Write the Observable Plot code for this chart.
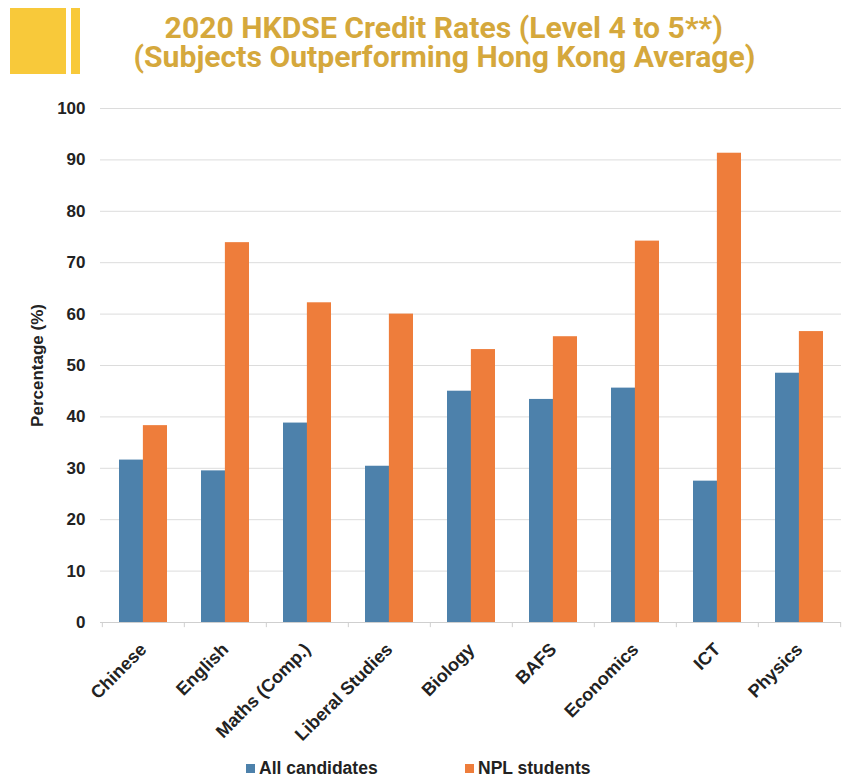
<!DOCTYPE html>
<html>
<head>
<meta charset="utf-8">
<script src="https://cdn.jsdelivr.net/npm/d3@7"></script>
<script src="https://cdn.jsdelivr.net/npm/@observablehq/plot@0.6"></script>
<style>
  html, body { margin: 0; padding: 0; background: #fff; }
  body { width: 848px; height: 778px; overflow: hidden; font-family: "Liberation Sans", Arial, sans-serif; }
  #header { position: relative; height: 90px; }
  .blk { position: absolute; background: #F8C93A; }
  .tl { position: absolute; left: 0; width: 888px; height: 28px; text-align: center; color: #D5A83C;
        font-family: Roboto, sans-serif; font-weight: 700; font-size: 30px; line-height: 28px; white-space: nowrap; }
  .tl span { display: inline-block; transform-origin: 50% 50%; }
  #chart { height: 660px; }
  #legend { position: relative; height: 28px; font-weight: 700; font-size: 17.5px; color: #222; }
  .item { position: absolute; top: 9px; display: flex; align-items: center; line-height: 18px; }
  .sw { width: 9px; height: 9px; margin-right: 4px; }
</style>
</head>
<body>
<div id="header">
  <div class="blk" style="left:10px;top:8px;width:56px;height:66px;"></div>
  <div class="blk" style="left:71px;top:8px;width:9px;height:66px;"></div>
  <div class="tl" style="top:14px;"><span id="t1">2020 HKDSE Credit Rates (Level 4 to 5**)</span></div>
  <div class="tl" style="top:43px;"><span id="t2">(Subjects Outperforming Hong Kong Average)</span></div>
</div>
<div id="chart"></div>
<div id="legend"></div>
<script>
const subjects = ["Chinese", "English", "Maths (Comp.)", "Liberal Studies", "Biology", "BAFS", "Economics", "ICT", "Physics"];
const allCandidates = [31.6, 29.5, 38.8, 30.4, 45.0, 43.4, 45.6, 27.5, 48.5];
const nplStudents = [38.3, 73.9, 62.2, 60.0, 53.1, 55.6, 74.2, 91.3, 56.6];
const seriesNames = ["All candidates", "NPL students"];
const seriesColors = ["#4D81AB", "#EE7D3B"];
const yTicks = [0, 10, 20, 30, 40, 50, 60, 70, 80, 90, 100];

// title: condense horizontally so the second line spans ~622px
(function () {
  const t1 = document.getElementById("t1");
  const t2 = document.getElementById("t2");
  const k = 622 / t2.getBoundingClientRect().width;
  t1.style.transform = `scaleX(${k})`;
  t2.style.transform = `scaleX(${k})`;
})();

const data = [];
subjects.forEach((s, i) => {
  data.push({subject: s, series: seriesNames[0], value: allCandidates[i]});
  data.push({subject: s, series: seriesNames[1], value: nplStudents[i]});
});

const W = 848, ML = 100, MR = 7;
const pIn = 0.42, pOut = 0.21;
const step = (W - ML - MR) / (subjects.length - pIn + 2 * pOut);
const bw = step * (1 - pIn);

const chart = Plot.plot({
  width: W,
  height: 660,
  marginTop: 18,
  marginBottom: 128,
  marginLeft: ML,
  marginRight: MR,
  style: {color: "#222", fontFamily: "'Liberation Sans', Arial, sans-serif", background: "transparent"},
  x: {domain: subjects, paddingInner: pIn, paddingOuter: pOut, label: null},
  y: {domain: [0, 100], label: null},
  marks: [
    Plot.gridY(yTicks.slice(1), {stroke: "#dcdcdc", strokeOpacity: 1}),
    Plot.ruleY([0], {stroke: "#cfcfcf"}),
    Plot.ruleX(subjects, {x: d => d, y1: -1, y2: 0, dx: -step / 2, stroke: "#cfcfcf"}),
    Plot.ruleX(subjects.slice(-1), {x: d => d, y1: -1, y2: 0, dx: step / 2, stroke: "#cfcfcf"}),
    Plot.barY(data.filter(d => d.series === seriesNames[0]), {x: "subject", y: "value", fill: seriesColors[0], insetRight: bw / 2}),
    Plot.barY(data.filter(d => d.series === seriesNames[1]), {x: "subject", y: "value", fill: seriesColors[1], insetLeft: bw / 2}),
    Plot.axisY({ticks: yTicks, tickSize: 0, tickPadding: 15, fontSize: 17, fontWeight: 700,
                label: "Percentage (%)", labelAnchor: "center", labelOffset: 70, labelArrow: "none"}),
    Plot.axisX({tickRotate: -45, tickSize: 0, tickPadding: 24, fontSize: 18, fontWeight: 700, label: null})
  ]
});
chart.querySelectorAll("[aria-label='y-axis label'] text").forEach(t => { t.setAttribute("font-size", 17); t.setAttribute("font-weight", 700); });
document.getElementById("chart").appendChild(chart);

// legend
const lg = document.getElementById("legend");
const lefts = [246, 465];
seriesNames.forEach((n, i) => {
  const it = document.createElement("div");
  it.className = "item";
  it.style.left = lefts[i] + "px";
  it.innerHTML = `<span class="sw" style="background:${seriesColors[i]}"></span><span>${n}</span>`;
  lg.appendChild(it);
});
</script>
</body>
</html>
